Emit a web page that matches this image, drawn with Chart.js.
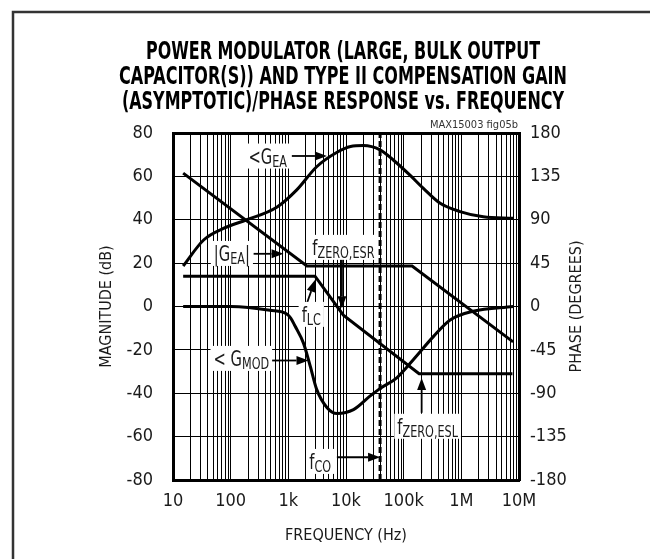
<!DOCTYPE html>
<html>
<head>
<meta charset="utf-8">
<script src="https://cdn.jsdelivr.net/npm/chart.js@4.4.0/dist/chart.umd.min.js"></script>
<style>
  html, body { margin: 0; padding: 0; background: #fff; }
</style>
</head>
<body>
<canvas id="bode" width="650" height="559"></canvas>
<script>
// frequency axis: decades and their labels
const decadeHz = [10, 100, 1e3, 1e4, 1e5, 1e6, 1e7];
const decadeNames = ['10', '100', '1k', '10k', '100k', '1M', '10M'];

// |GEA| asymptote (dB)
const geaMagHz = [15, 2100, 140000, 7900000];
const geaMagDb = [61.5, 18.7, 18.7, -16.3];

// power modulator asymptote (dB)
const gmodMagHz = [15, 2900, 9000, 185000, 7700000];
const gmodMagDb = [14, 14, -4, -31, -31];

// <GEA phase (degrees)
const geaPhaseHz = [15, 34, 75, 190, 630, 1400, 3100, 7000, 12000, 20000, 39000, 66000, 130000, 220000, 430000, 950000, 2400000, 7900000];
const geaPhaseDeg = [42, 69, 81, 90, 103, 121, 145, 160, 166, 167, 162.5, 152, 136, 122.5, 107, 98.5, 93, 91.5];

// <GMOD phase (degrees)
const gmodPhaseHz = [15, 100, 480, 950, 1100, 1300, 1830, 2400, 3100, 4700, 7000, 13500, 26000, 39000, 76000, 148000, 330000, 640000, 1600000, 7900000];
const gmodPhaseDeg = [0, 0, -4, -8, -12, -20, -38, -62, -86, -105, -111, -107, -93, -85, -74, -55, -31, -14, -5, 0];

// crossover frequency
const fcoHz = 39000;

// callout text: [main, subscript, tail]
const calloutText = [
  ['<G', 'EA', ''],
  ['|G', 'EA', '|'],
  ['f', 'ZERO,ESR', ''],
  ['f', 'LC', ''],
  ['< G', 'MOD', ''],
  ['f', 'ZERO,ESL', ''],
  ['f', 'CO', '']
];
const calloutHz = [440, 105, 9000, 2500, 153, 260000, 3570];
const calloutDb = [69.6, 24.7, 27.5, -3.4, -23.7, -55, -71.2];

// callout arrows (start -> tip)
const arrowFromHz = [1150, 250, 8500, 2100, 485, 205000, 6950];
const arrowFromDb = [69.4, 24.3, 23, 1.5, -24.9, -49, -69.5];
const arrowToHz = [4670, 826, 8500, 2920, 2240, 205000, fcoHz];
const arrowToDb = [69.4, 24.3, -0.8, 12.3, -24.9, -33, -69.5];

const titleLines = [
  'POWER MODULATOR (LARGE, BULK OUTPUT',
  'CAPACITOR(S)) AND TYPE II COMPENSATION GAIN',
  '(ASYMPTOTIC)/PHASE RESPONSE vs. FREQUENCY'
];

const NARROW = '"Liberation Sans Narrow", "DejaVu Sans Condensed", Arial, sans-serif';
const INK = '#1a1a1a';

// grid positions 1..9 x each decade
const gridHz = [];
decadeHz.slice(0, -1).forEach(d => { for (let k = 1; k < 10; k++) gridHz.push(d * k); });
gridHz.push(1e7);

const toPts = (xs, ys) => xs.map((x, i) => ({ x: x, y: ys[i] }));

const frame = {
  id: 'frame',
  beforeDraw(chart) {
    const ctx = chart.ctx;
    ctx.save();
    ctx.fillStyle = '#fff';
    ctx.fillRect(0, 0, chart.width, chart.height);
    ctx.strokeStyle = '#333';
    ctx.lineWidth = 2.5;
    ctx.beginPath();
    ctx.moveTo(13, chart.height);
    ctx.lineTo(13, 12);
    ctx.lineTo(chart.width, 12);
    ctx.stroke();
    ctx.restore();
  },
  afterDraw(chart) {
    const ctx = chart.ctx;
    const area = chart.chartArea;
    ctx.save();
    // heading, squeezed to a condensed look
    const widths = [394, 448, 442];
    const ys = [52, 77, 102];
    const cx = 343;
    ctx.fillStyle = '#000';
    ctx.textBaseline = 'middle';
    ctx.textAlign = 'center';
    ctx.font = 'bold 25px ' + NARROW;
    titleLines.forEach((line, i) => {
      const w = ctx.measureText(line).width;
      ctx.save();
      ctx.translate(cx, ys[i]);
      ctx.scale(widths[i] / w, 1);
      ctx.fillText(line, 0, 0);
      ctx.restore();
    });
    // figure id
    ctx.font = '11px ' + NARROW;
    ctx.fillStyle = '#333';
    ctx.textAlign = 'right';
    ctx.fillText('MAX15003 fig05b', area.right - 1, 125);
    // right axis title, reading upward
    ctx.font = '16px ' + NARROW;
    ctx.fillStyle = INK;
    ctx.textAlign = 'center';
    ctx.translate(577, (area.top + area.bottom) / 2);
    ctx.rotate(-Math.PI / 2);
    ctx.fillText('PHASE (DEGREES)', 0, 0);
    ctx.restore();
  }
};

const callouts = {
  id: 'callouts',
  afterDatasetsDraw(chart) {
    const ctx = chart.ctx;
    const xs = chart.scales.x;
    const ys = chart.scales.y;
    ctx.save();
    // arrows
    arrowFromHz.forEach((f, i) => {
      const x1 = xs.getPixelForValue(f), y1 = ys.getPixelForValue(arrowFromDb[i]);
      const x2 = xs.getPixelForValue(arrowToHz[i]), y2 = ys.getPixelForValue(arrowToDb[i]);
      const a = Math.atan2(y2 - y1, x2 - x1);
      const len = 12, half = 4.5;
      const bx = x2 - len * Math.cos(a), by = y2 - len * Math.sin(a);
      ctx.strokeStyle = '#000';
      ctx.lineWidth = 1.8;
      ctx.beginPath();
      ctx.moveTo(x1, y1);
      ctx.lineTo(bx, by);
      ctx.stroke();
      ctx.fillStyle = '#000';
      ctx.beginPath();
      ctx.moveTo(x2, y2);
      ctx.lineTo(bx + half * Math.sin(a), by - half * Math.cos(a));
      ctx.lineTo(bx - half * Math.sin(a), by + half * Math.cos(a));
      ctx.closePath();
      ctx.fill();
    });
    // labels with white boxes, text narrowed horizontally
    const squeeze = 0.78;
    const mainFont = '21px ' + NARROW;
    const subFont = '16px ' + NARROW;
    ctx.textBaseline = 'alphabetic';
    ctx.textAlign = 'left';
    calloutText.forEach((parts, i) => {
      const cx = xs.getPixelForValue(calloutHz[i]);
      const cy = ys.getPixelForValue(calloutDb[i]);
      const fonts = [mainFont, subFont, mainFont];
      const ws = parts.map((t, k) => { ctx.font = fonts[k]; return ctx.measureText(t).width * squeeze; });
      const w = ws[0] + ws[1] + ws[2];
      ctx.fillStyle = '#fff';
      ctx.fillRect(cx - w / 2 - 3, cy - 12, w + 6, 25);
      let x = cx - w / 2;
      ctx.fillStyle = INK;
      parts.forEach((t, k) => {
        ctx.font = fonts[k];
        ctx.save();
        ctx.translate(x, cy + (k === 1 ? 11 : 8));
        ctx.scale(squeeze, 1);
        ctx.fillText(t, 0, 0);
        ctx.restore();
        x += ws[k];
      });
    });
    ctx.restore();
  }
};

const tickFont = { family: NARROW, size: 18 };
const axisTitleFont = { family: NARROW, size: 16 };
const line = { borderColor: '#000', borderWidth: 3, pointRadius: 0, fill: false };

new Chart(document.getElementById('bode'), {
  type: 'line',
  data: {
    datasets: [
      { ...line, label: '|GEA|', data: toPts(geaMagHz, geaMagDb), yAxisID: 'y', tension: 0 },
      { ...line, label: 'GMOD', data: toPts(gmodMagHz, gmodMagDb), yAxisID: 'y', tension: 0 },
      { ...line, label: '<GEA', data: toPts(geaPhaseHz, geaPhaseDeg), yAxisID: 'y2', cubicInterpolationMode: 'monotone' },
      { ...line, label: '<GMOD', data: toPts(gmodPhaseHz, gmodPhaseDeg), yAxisID: 'y2', cubicInterpolationMode: 'monotone' },
      { ...line, label: 'fCO', data: [{ x: fcoHz, y: -80 }, { x: fcoHz, y: 80 }], yAxisID: 'y', borderDash: [6, 3] }
    ]
  },
  options: {
    responsive: false,
    animation: false,
    devicePixelRatio: 1,
    layout: { padding: { top: 133, left: 95, right: 0, bottom: 0 } },
    plugins: { legend: { display: false }, tooltip: { enabled: false }, title: { display: false } },
    scales: {
      x: {
        type: 'logarithmic',
        min: 10,
        max: 1e7,
        afterBuildTicks: axis => { axis.ticks = gridHz.map(v => ({ value: v })); },
        afterFit: axis => { axis.height = 79; },
        grid: { color: '#000', lineWidth: 1, drawTicks: false },
        border: { color: '#000', width: 3 },
        ticks: {
          autoSkip: false,
          maxRotation: 0,
          padding: 11,
          color: INK,
          font: tickFont,
          callback: v => { const i = decadeHz.indexOf(v); return i < 0 ? '' : decadeNames[i]; }
        },
        title: { display: true, text: 'FREQUENCY (Hz)', color: INK, font: axisTitleFont, padding: { top: 0, bottom: 14 } }
      },
      y: {
        position: 'left',
        min: -80,
        max: 80,
        afterFit: axis => { axis.width = 78; },
        grid: {
          color: '#000',
          drawTicks: false,
          lineWidth: c => (c.tick && c.tick.value === 80 ? 3 : 1)
        },
        border: { color: '#000', width: 3 },
        ticks: { stepSize: 20, padding: 20, color: INK, font: tickFont },
        title: { display: true, text: 'MAGNITUDE (dB)', color: INK, font: axisTitleFont, padding: { top: 2, bottom: 0 } }
      },
      y2: {
        position: 'right',
        min: -180,
        max: 180,
        afterFit: axis => { axis.width = 131; },
        grid: { drawOnChartArea: false, drawTicks: false },
        border: { color: '#000', width: 3 },
        ticks: { stepSize: 45, padding: 11, color: INK, font: tickFont }
      }
    }
  },
  plugins: [frame, callouts]
});
</script>
</body>
</html>
